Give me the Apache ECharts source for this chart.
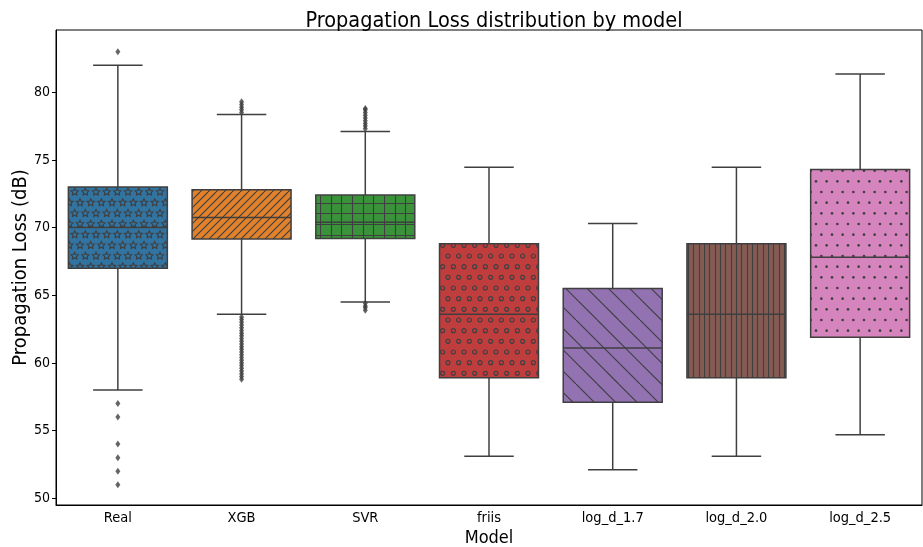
<!DOCTYPE html>
<html>
<head>
<meta charset="utf-8">
<script src="https://cdn.jsdelivr.net/npm/echarts@6/dist/echarts.min.js"></script>
<style>
  html, body { margin: 0; padding: 0; background: #fff; }
  #chart { width: 923px; height: 547px; }
</style>
</head>
<body>
<div id="chart"></div>
<script>
// categories and box statistics
const categories = ['Real', 'XGB', 'SVR', 'friis', 'log_d_1.7', 'log_d_2.0', 'log_d_2.5'];
const whiskerLow = [58.0, 63.6, 64.5, 53.1, 52.1, 53.1, 54.7];
const q1 = [67.0, 69.15, 69.2, 58.9, 57.1, 58.9, 61.9];
const median = [70.0, 70.75, 70.4, 63.6, 61.1, 63.6, 67.8];
const q3 = [73.0, 72.8, 72.4, 68.8, 65.5, 68.8, 74.3];
const whiskerHigh = [82.0, 78.35, 77.1, 74.45, 70.3, 74.45, 81.35];

// outliers per category
const realOutliers = [83.0, 57.0, 56.0, 54.0, 53.0, 52.0, 51.0];
const xgbOutliers = [78.5, 78.7, 78.9, 79.1, 79.3,
  63.4, 63.2, 63.0, 62.8, 62.6, 62.4, 62.2, 62.0, 61.8, 61.6, 61.4, 61.2, 61.0,
  60.8, 60.6, 60.4, 60.2, 60.0, 59.8, 59.6, 59.4, 59.2, 59.0, 58.8];
const svrOutliers = [77.3, 77.5, 77.7, 77.9, 78.1, 78.3, 78.5, 78.7, 78.8, 64.4, 64.2, 64.1, 63.9];

const yTicks = [50, 55, 60, 65, 70, 75, 80];

const boxColors = ['#3274a1', '#e1812c', '#3a923a', '#c03d3e', '#9372b2', '#845b53', '#d684bd'];
const hatches = ['stars', 'ne', 'grid', 'circles', 'nw', 'vert', 'dots'];
const LINE = '#3f3f3f';
const FONT = "'DejaVu Sans Condensed', 'DejaVu Sans', sans-serif";

// hatch tiles, 64px = one hatch unit
function hatchTile(base, kind) {
  const s = 64, step = s / 6;
  const c = document.createElement('canvas');
  c.width = c.height = s;
  const g = c.getContext('2d');
  g.fillStyle = base;
  g.fillRect(0, 0, s, s);
  g.strokeStyle = LINE;
  g.fillStyle = LINE;
  g.lineWidth = 1.1;

  const eachShape = (fn) => {
    for (let r = 0; r <= 6; r++) {
      const y = r * step;
      if (r % 2 === 0) {
        for (let k = 0; k <= 6; k++) fn(k * step, y);
      } else {
        for (let k = 0; k < 6; k++) fn((k + 0.5) * step, y);
      }
    }
  };
  const line = (x1, y1, x2, y2) => {
    g.beginPath(); g.moveTo(x1, y1); g.lineTo(x2, y2); g.stroke();
  };

  if (kind === 'stars') {
    const R = 3.8, r = 1.9;
    eachShape((cx, cy) => {
      g.beginPath();
      for (let i = 0; i < 10; i++) {
        const rad = i % 2 ? r : R;
        const a = -Math.PI / 2 + i * Math.PI / 5;
        const px = cx + rad * Math.cos(a), py = cy + rad * Math.sin(a);
        if (i === 0) g.moveTo(px, py); else g.lineTo(px, py);
      }
      g.closePath();
      g.stroke();
    });
  } else if (kind === 'circles') {
    eachShape((cx, cy) => {
      g.beginPath(); g.arc(cx, cy, 2.0, 0, Math.PI * 2); g.stroke();
    });
  } else if (kind === 'dots') {
    eachShape((cx, cy) => {
      g.beginPath(); g.arc(cx, cy, 1.3, 0, Math.PI * 2); g.fill();
    });
  } else if (kind === 'ne') {
    const d = s / 8;
    for (let k = 0; k <= 16; k++) line(k * d - s, s, k * d, 0);
  } else if (kind === 'nw') {
    const d = s / 3;
    for (let k = -3; k <= 3; k++) line(k * d, 0, k * d + s, s);
  } else if (kind === 'grid') {
    for (let k = 0; k < 6; k++) {
      const p = Math.round(k * step) + 0.5;
      line(p, 0, p, s);
      line(0, p, s, p);
    }
  } else if (kind === 'vert') {
    for (let k = 0; k < 12; k++) {
      const p = Math.round(k * s / 12) + 0.5;
      line(p, 0, p, s);
    }
  }
  return c;
}

const patterns = boxColors.map((col, i) => ({ image: hatchTile(col, hatches[i]), repeat: 'repeat' }));

const boxData = categories.map((c, i) => [i, whiskerLow[i], q1[i], median[i], q3[i], whiskerHigh[i]]);

const outlierData = []
  .concat(realOutliers.map(v => [0, v]))
  .concat(xgbOutliers.map(v => [1, v]))
  .concat(svrOutliers.map(v => [2, v]));

const chart = echarts.init(document.getElementById('chart'));

chart.setOption({
  animation: false,
  backgroundColor: '#fff',
  title: {
    text: 'Propagation Loss distribution by model',
    left: 489,
    top: 5,
    textAlign: 'center',
    textStyle: { fontFamily: FONT, fontSize: 21.5, fontWeight: 'normal', color: '#000' }
  },
  grid: {
    left: 56, right: 1, top: 30, bottom: 42,
    containLabel: false,
    outerBoundsMode: 'none',
    show: true, borderColor: '#000', borderWidth: 1, backgroundColor: 'transparent'
  },
  xAxis: {
    type: 'category',
    data: categories,
    boundaryGap: true,
    name: 'Model',
    nameLocation: 'middle',
    nameGap: 24,
    nameMoveOverlap: false,
    nameTextStyle: { fontFamily: FONT, fontSize: 18, color: '#000' },
    axisLine: { lineStyle: { color: '#000', width: 1 } },
    axisTick: { alignWithLabel: true, length: 4, lineStyle: { color: '#000' } },
    axisLabel: { fontFamily: FONT, fontSize: 14.5, color: '#000', margin: 6 },
    splitLine: { show: false }
  },
  yAxis: {
    type: 'value',
    min: 49.5,
    max: 84.6,
    name: 'Propagation Loss (dB)',
    nameLocation: 'middle',
    nameGap: 25,
    nameMoveOverlap: false,
    nameTextStyle: { fontFamily: FONT, fontSize: 20, color: '#000' },
    axisLine: { show: true, lineStyle: { color: '#000', width: 1 } },
    axisTick: { show: true, length: 4, lineStyle: { color: '#000' }, customValues: yTicks },
    axisLabel: { fontFamily: FONT, fontSize: 14, color: '#000', margin: 6, customValues: yTicks },
    splitLine: { show: false }
  },
  series: [
    {
      type: 'custom',
      data: boxData,
      encode: { x: 0, y: [1, 2, 3, 4, 5] },
      renderItem: function (params, api) {
        const i = api.value(0);
        const x = api.coord([i, 0])[0];
        const yLo = api.coord([i, api.value(1)])[1];
        const yQ1 = api.coord([i, api.value(2)])[1];
        const yMed = api.coord([i, api.value(3)])[1];
        const yQ3 = api.coord([i, api.value(4)])[1];
        const yHi = api.coord([i, api.value(5)])[1];
        const band = api.size([1, 0])[0];
        const bw = band * 0.8;
        const cw = bw / 2;
        const ls = { stroke: LINE, lineWidth: 1.5 };
        return {
          type: 'group',
          children: [
            { type: 'line', shape: { x1: x, y1: yHi, x2: x, y2: yQ3 }, style: ls },
            { type: 'line', shape: { x1: x, y1: yQ1, x2: x, y2: yLo }, style: ls },
            { type: 'line', shape: { x1: x - cw / 2, y1: yHi, x2: x + cw / 2, y2: yHi }, style: ls },
            { type: 'line', shape: { x1: x - cw / 2, y1: yLo, x2: x + cw / 2, y2: yLo }, style: ls },
            {
              type: 'rect',
              shape: { x: x - bw / 2, y: yQ3, width: bw, height: yQ1 - yQ3 },
              style: { fill: patterns[i], stroke: LINE, lineWidth: 1.5 }
            },
            { type: 'line', shape: { x1: x - bw / 2, y1: yMed, x2: x + bw / 2, y2: yMed }, style: ls }
          ]
        };
      },
      z: 2
    },
    {
      type: 'scatter',
      data: outlierData,
      symbol: 'diamond',
      symbolSize: [5, 7],
      itemStyle: { color: LINE },
      z: 3
    }
  ]
});
</script>
</body>
</html>
